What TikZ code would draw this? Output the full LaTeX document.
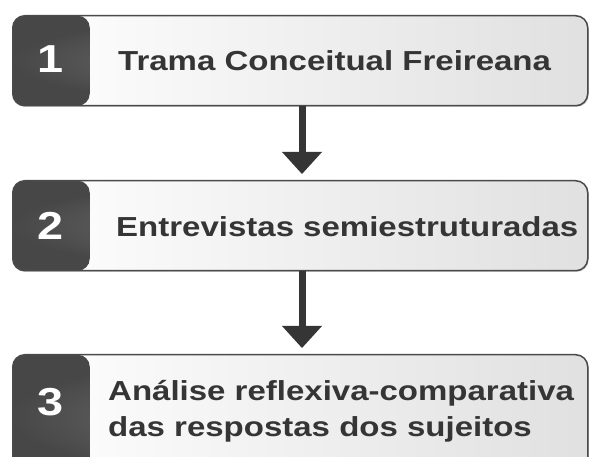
\documentclass[tikz,border=0pt]{standalone}
\usepackage{fontspec}
\setmainfont{Liberation Sans}
\newfontfamily\labfont[FakeStretch=1.2]{Liberation Sans}
\usetikzlibrary{arrows.meta,shadows}
\definecolor{ink}{HTML}{353535}
\definecolor{frame}{HTML}{4A4A4A}
\tikzset{
  stepbox/.style={rounded corners=12pt, draw=frame, line width=1.5pt,
    left color=white, right color=black!12,
    minimum width=575pt, inner sep=0pt,
    drop shadow={shadow xshift=1pt, shadow yshift=-1.2pt, opacity=0.35},
    path picture={\shade[inner color=black!52, outer color=black!72]
      (path picture bounding box.south west) rectangle
      ([xshift=77pt]path picture bounding box.north west);}},
  lab/.style={font=\labfont\bfseries\fontsize{27.5}{36}\selectfont, text=ink, inner sep=0pt},
  num/.style={font=\labfont\bfseries\fontsize{39}{39}\selectfont, text=white, inner sep=0pt},
  flow/.style={draw=ink, line width=7pt, -{Triangle[width=40pt,length=22pt,line width=0pt]}, shorten >=6pt}
}
\begin{document}
\begin{tikzpicture}[x=1pt,y=1pt]
\useasboundingbox (0,0) rectangle (589,457);
\fill[white] (0,0) rectangle (589,457);
\begin{scope}
\clip (0,0) rectangle (589,457);
\node[stepbox, minimum height=90pt, anchor=north west] (b1) at (12,442) {};
\node[stepbox, minimum height=90pt, anchor=north west] (b2) at (12,277) {};
\node[stepbox, minimum height=125pt, anchor=north west] (b3) at (12,103) {};
\coordinate (ax) at (302,0);
\draw[flow] (b1.south -| ax) -- (b2.north -| ax);
\draw[flow] (b2.south -| ax) -- (b3.north -| ax);
\node[num, anchor=base] (n1) at (51,384) {1};
\node[num, anchor=base] (n2) at (51,217) {2};
\node[num, anchor=base] (n3) at (51,41) {3};
\node[lab, anchor=base west] (t1) at (118,386) {Trama Conceitual Freireana};
\node[lab, anchor=base west] (t2) at (116,220) {Entrevistas semiestruturadas};
\node[lab, anchor=base west, align=left] (t3) at (108,20) {Análise reflexiva-comparativa\\das respostas dos sujeitos};
\end{scope}
\end{tikzpicture}
\end{document}
